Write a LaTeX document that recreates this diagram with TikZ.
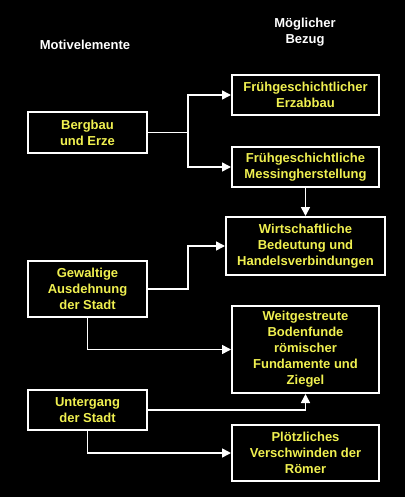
\documentclass[tikz,border=0pt]{standalone}
\usepackage{fontspec}
\setmainfont{Liberation Sans}
\usepackage{xcolor}
\usetikzlibrary{arrows.meta}
\definecolor{txtyellow}{RGB}{240,240,80}

\begin{document}
\begin{tikzpicture}[x=1pt, y=-1pt,
  every node/.style={font=\bfseries\fontsize{13}{16}\selectfont, align=center},
  box/.style={draw=white, line width=2pt, text=txtyellow, inner sep=0pt, minimum width=119pt},
  rbox/.style={box, minimum width=147pt},
  head/.style={text=white},
  arr/.style={draw=white, line width=1.6pt, -{Triangle[length=9pt,width=9pt]}},
  link/.style={draw=white, line width=1.6pt}]
\fill[black] (0,0) rectangle (405,497);
\useasboundingbox (0,0) rectangle (405,497);
% headings
\node[head] (motiv) at (85,45) {Motivelemente};
\node[head] (bezug) at (305,32) {Möglicher\\Bezug};
% left column
\node[box, minimum height=41pt] (bergbau) at (87.5,132.5) {Bergbau\\und Erze};
\node[box, minimum height=56pt] (gewaltig) at (87.5,289) {Gewaltige\\Ausdehnung\\der Stadt};
\node[box, minimum height=40pt] (untergang) at (87.5,410) {Untergang\\der Stadt};
% right column
\node[rbox, minimum height=40pt] (erzabbau) at (305.5,95) {Frühgeschichtlicher\\Erzabbau};
\node[rbox, minimum height=40pt] (messing) at (305.5,167) {Frühgeschichtliche\\Messingherstellung};
\node[rbox, minimum width=159pt, minimum height=58pt] (handel) at (305.5,246) {Wirtschaftliche\\Bedeutung und\\Handelsverbindungen};
\node[rbox, minimum height=87pt] (funde) at (305.5,349.5) {Weitgestreute\\Bodenfunde\\römischer\\Fundamente und\\Ziegel};
\node[rbox, minimum height=56pt] (roemer) at (305.5,453) {Plötzliches\\Verschwinden der\\Römer};
% connectors
\coordinate (split) at (188,132.5);
\draw[link] (bergbau.east) -- (split);
\draw[arr] (split) |- (erzabbau.west);
\draw[arr] (split) |- (messing.west);
\draw[arr] (messing.south) -- (handel.north);
\draw[arr] (gewaltig.east) -- ++(40,0) |- (handel.west);
\draw[arr] (gewaltig.south) |- (funde.west);
\draw[arr] (untergang.east) -| (funde.south);
\draw[arr] (untergang.south) |- (roemer.west);
\end{tikzpicture}
\end{document}
